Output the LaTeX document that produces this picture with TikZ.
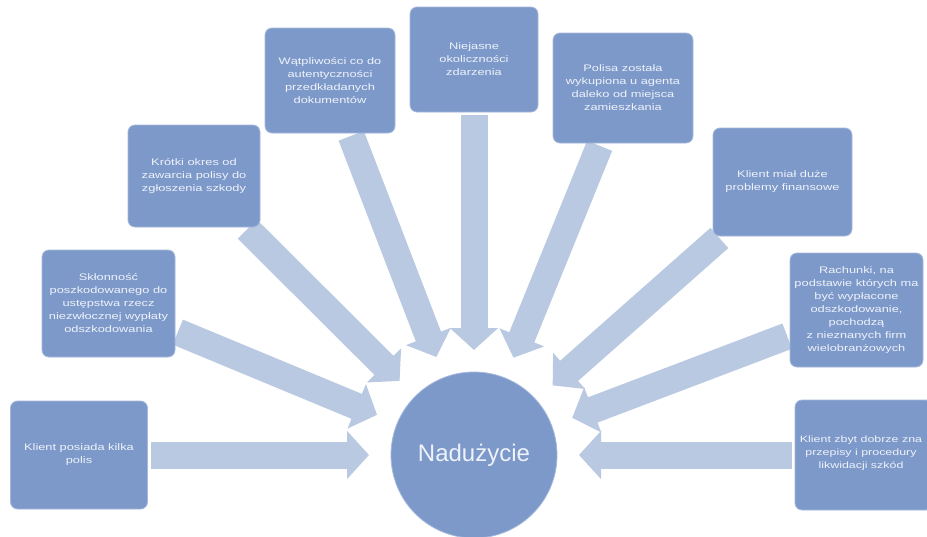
\documentclass[tikz,border=0pt]{standalone}
\usepackage{fontspec}
\setmainfont{Liberation Sans}
\newfontfamily\boxfont[FakeStretch=1.35]{Liberation Sans}
\usetikzlibrary{arrows.meta}
\pgfdeclarelayer{back}
\pgfdeclarelayer{arrowlayer}
\pgfsetlayers{back,arrowlayer,main}
\definecolor{boxblue}{RGB}{125,153,201}
\definecolor{arrowblue}{RGB}{186,201,226}
\definecolor{boxedge}{RGB}{165,185,220}
\definecolor{txt}{RGB}{238,242,250}
\begin{document}
\begin{tikzpicture}[x=1pt,y=-1pt,
  cause/.style={rectangle, rounded corners=7pt, fill=boxblue, draw=boxedge, line width=0.8pt,
    inner sep=0pt, outer sep=0pt, align=center, text=txt, font=\boxfont\fontsize{9.5}{13}\selectfont},
  hub/.style={circle, fill=boxblue, draw=boxedge, line width=0.8pt, minimum size=166pt, inner sep=0pt,
    outer sep=0pt, text=txt, font=\fontsize{24}{28}\selectfont},
  bigarrow/.style={draw=arrowblue, line width=27pt, -{Triangle[length=22pt,width=47pt]},
    shorten <=3pt, shorten >=22pt}
]
\begin{pgfonlayer}{back}
  \fill[white] (0,0) rectangle (927,536);
\end{pgfonlayer}
\useasboundingbox (0,0) rectangle (927,536);

\node[hub] (hubn) at (474,455) {Nadużycie};

\node[cause, minimum width=137pt, minimum height=108pt] (c1) at (79,455)
  {Klient posiada kilka\\polis};
\node[cause, minimum width=133pt, minimum height=107pt] (c2) at (108.5,303.5)
  {Skłonność\\poszkodowanego do\\ustępstwa rzecz\\niezwłocznej wypłaty\\odszkodowania};
\node[cause, minimum width=132pt, minimum height=102pt] (c3) at (194,176)
  {Krótki okres od\\zawarcia polisy do\\zgłoszenia szkody};
\node[cause, minimum width=130pt, minimum height=105pt] (c4) at (330,80.5)
  {Wątpliwości co do\\autentyczności\\przedkładanych\\dokumentów};
\node[cause, minimum width=128pt, minimum height=105pt] (c5) at (474,59.5)
  {Niejasne\\okoliczności\\zdarzenia};
\node[cause, minimum width=140pt, minimum height=110pt] (c6) at (623,88)
  {Polisa została\\wykupiona u agenta\\daleko od miejsca\\zamieszkania};
\node[cause, minimum width=139pt, minimum height=108pt] (c7) at (782.5,182)
  {Klient miał duże\\problemy finansowe};
\node[cause, minimum width=133pt, minimum height=114pt] (c8) at (856.5,310)
  {Rachunki, na\\podstawie których ma\\być wypłacone\\odszkodowanie,\\pochodzą\\z nieznanych firm\\wielobranżowych};
\node[cause, minimum width=138pt, minimum height=110pt] (c9) at (864,455) {};
\node[align=center, text=txt, inner sep=0pt, font=\boxfont\fontsize{9.2}{13}\selectfont]
  (c9text) at (861,453) {Klient zbyt dobrze zna\\przepisy i procedury\\likwidacji szkód};

\begin{pgfonlayer}{arrowlayer}
  \foreach \k in {c1,c2,c3,c4,c5,c6,c7,c8,c9}
    \draw[bigarrow] (\k) -- (hubn);
\end{pgfonlayer}
\end{tikzpicture}
\end{document}
